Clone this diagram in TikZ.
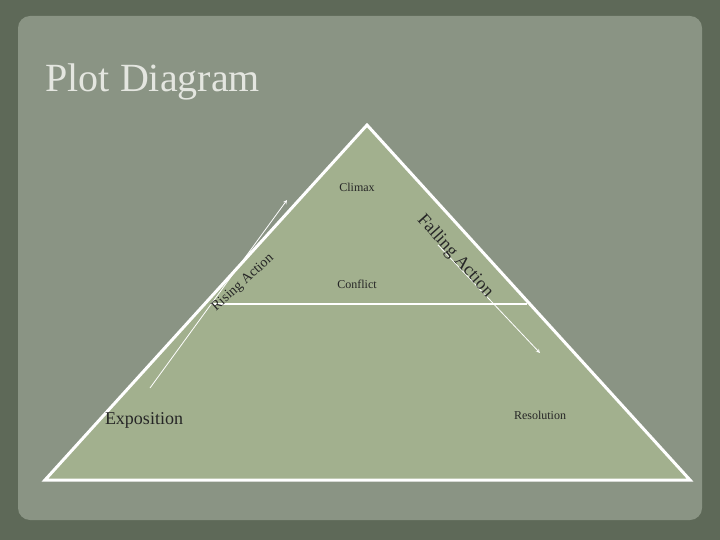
\documentclass[tikz,border=0pt]{standalone}
\usepackage{fontspec}
\setmainfont{Liberation Serif}
\definecolor{frame}{HTML}{5E6958}
\definecolor{paper}{HTML}{8A9484}
\definecolor{tri}{HTML}{A2B08E}
\definecolor{ttl}{HTML}{E4E6E0}
\begin{document}
\begin{tikzpicture}[x=1pt,y=-1pt,
  lbl/.style={font=\fontsize{12}{12}\selectfont, text=black!85},
  arr/.style={draw=white, line width=0.8pt, -stealth}]
\useasboundingbox (0,0) rectangle (720,540);
\fill[frame] (0,0) rectangle (720,540);
\fill[paper, rounded corners=12pt] (18,16) rectangle (702,520);
\coordinate (A) at (367,125);
\coordinate (L) at (45,480);
\coordinate (R) at (690,480);
\filldraw[fill=tri, draw=white, line width=3pt, line join=miter] (A) -- (L) -- (R) -- cycle;
\coordinate (c1) at (212,304);
\coordinate (c2) at (527,304);
\draw[white, line width=2.2pt] (c1) -- (c2);
\coordinate (r1) at (150,388); \coordinate (r2) at (287,200);
\coordinate (f1) at (438,245); \coordinate (f2) at (540,353);
\draw[arr] (r1) -- (r2);
\draw[arr] (f1) -- (f2);
\node[font=\fontsize{40}{40}\selectfont, text=ttl, anchor=west] (title) at (42,82) {Plot Diagram};
\node[lbl] (climax) at (357,187) {Climax};
\node[lbl] (conflict) at (357,284) {Conflict};
\node[lbl, font=\fontsize{18}{18}\selectfont] (expo) at (144,420) {Exposition};
\node[lbl] (reso) at (540,415) {Resolution};
\node[lbl, rotate=42, font=\fontsize{14}{14}\selectfont] (rise) at (243,283) {Rising Action};
\node[lbl, rotate=-48, font=\fontsize{18}{18}\selectfont] (fall) at (455,256) {Falling Action};
\end{tikzpicture}
\end{document}
